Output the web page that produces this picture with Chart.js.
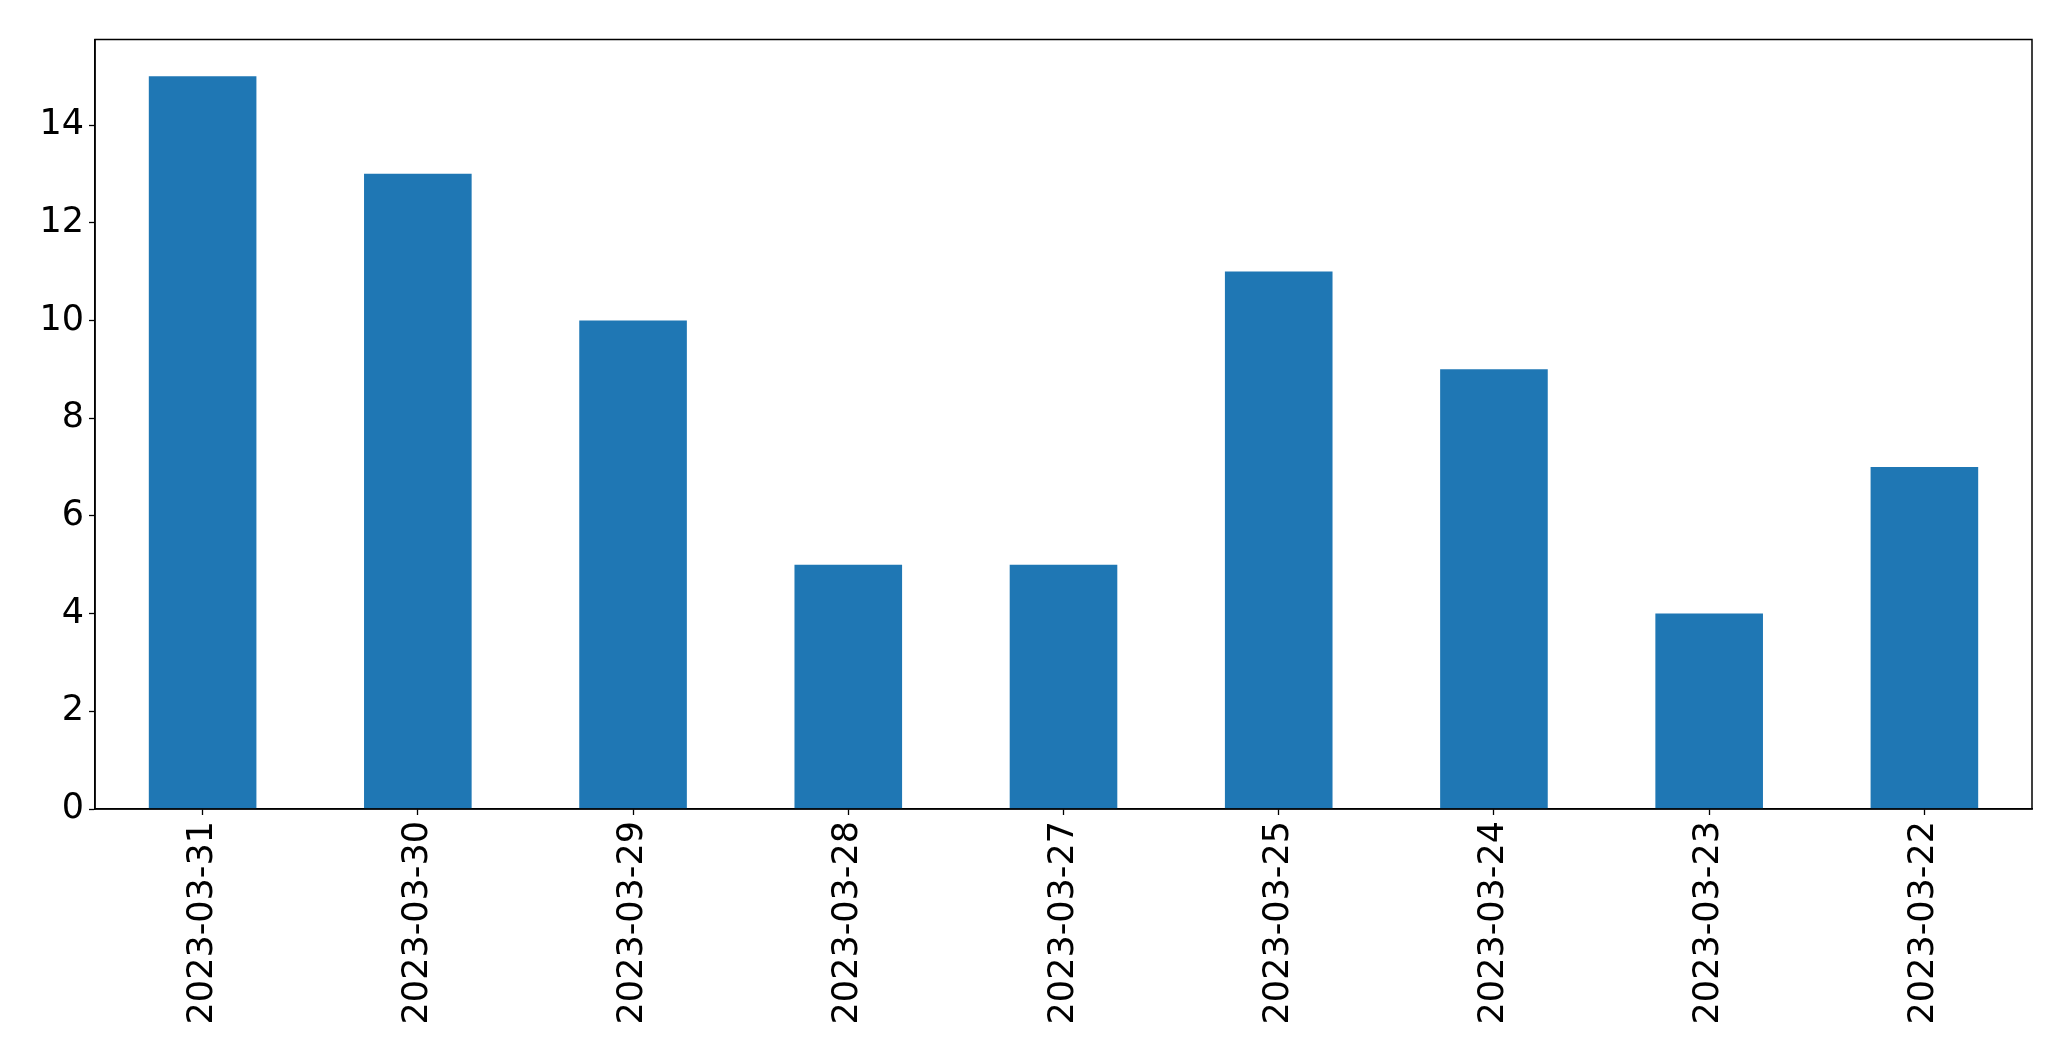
<!DOCTYPE html>
<html>
<head>
<meta charset="utf-8">
<script src="https://cdn.jsdelivr.net/npm/chart.js@4/dist/chart.umd.min.js"></script>
<style>
  html, body { margin: 0; padding: 0; background: #fff; }
  #chart { display: block; }
</style>
</head>
<body>
<canvas id="chart" width="2071" height="1061"></canvas>
<script>
const dates = ['2023-03-31', '2023-03-30', '2023-03-29', '2023-03-28', '2023-03-27',
               '2023-03-25', '2023-03-24', '2023-03-23', '2023-03-22'];
const counts = [15, 13, 10, 5, 5, 11, 9, 4, 7];
const yMax = 15.75;

// draws the box round the plot, like matplotlib's spines
const frameBox = {
    id: 'frameBox',
    afterDraw(chart) {
        const a = chart.chartArea;
        const ctx = chart.ctx;
        ctx.save();
        ctx.strokeStyle = '#000';
        ctx.lineWidth = 1.5;
        ctx.strokeRect(a.left, a.top, a.right - a.left, a.bottom - a.top);
        ctx.restore();
    }
};

const ctx = document.getElementById('chart').getContext('2d');
new Chart(ctx, {
    type: 'bar',
    data: {
        labels: dates,
        datasets: [{
            data: counts,
            backgroundColor: '#1f77b4',
            borderWidth: 0,
            barPercentage: 0.5,
            categoryPercentage: 1.0
        }]
    },
    options: {
        responsive: false,
        animation: false,
        layout: { padding: { top: 39.5, right: 39, left: 0, bottom: 0 } },
        plugins: {
            legend: { display: false },
            tooltip: { enabled: false }
        },
        scales: {
            x: {
                offset: true,
                grid: { display: true, offset: false, drawOnChartArea: false, drawTicks: true, tickLength: 6, color: '#000', tickWidth: 1.3 },
                border: { display: true, color: '#000', width: 1.5 },
                ticks: {
                    color: '#000',
                    font: { family: 'DejaVu Sans', size: 35 },
                    minRotation: 90,
                    maxRotation: 90,
                    autoSkip: false,
                    padding: 6
                },
                afterFit(scale) { scale.height = 252; }
            },
            y: {
                min: 0,
                max: yMax,
                grid: { display: true, drawOnChartArea: false, drawTicks: true, tickLength: 6, color: '#000', tickWidth: 1.3 },
                border: { display: true, color: '#000', width: 1.5 },
                ticks: {
                    stepSize: 2,
                    includeBounds: false,
                    color: '#000',
                    font: { family: 'DejaVu Sans', size: 35 },
                    padding: 5
                },
                afterFit(scale) { scale.width = 95; }
            }
        }
    },
    plugins: [frameBox]
});
</script>
</body>
</html>
